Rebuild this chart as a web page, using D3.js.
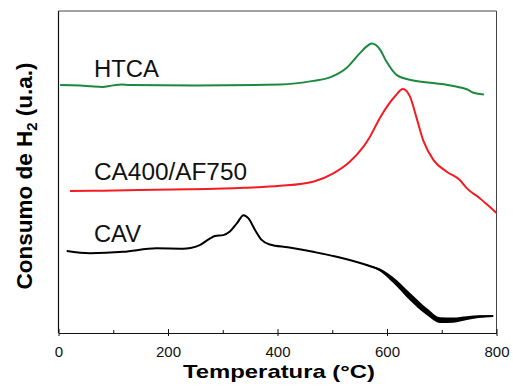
<!DOCTYPE html>
<html>
<head>
  <style>
    body {
      margin: 0;
      background: white;
    }
    text {
      font-family: "Liberation Sans", Arial, sans-serif;
    }
  </style>
</head>
<body>
  <div id="chart"></div>
  <script src="https://d3js.org/d3.v7.min.js"></script>
  <script>
    var width = 513, height = 387;
    var margin = {left: 58.5, right: 16.5, top: 11, bottom: 54};

    // tick labels
    var majorTicks = [0, 200, 400, 600, 800];
    var minorTicks = [100, 300, 500, 700];

    // HTCA (green)
    var htcaTemp = [3, 40, 60, 80, 100, 115, 130, 250, 405, 465, 496, 526, 551, 563, 572, 587, 599, 618, 648, 691, 721, 746, 758, 777];
    var htcaVal  = [77.0, 76.9, 76.6, 76.4, 76.9, 77.2, 77.0, 76.9, 77.2, 78.3, 79.4, 82.3, 87.0, 89.0, 89.9, 88.1, 84.3, 80.1, 78.4, 77.5, 76.7, 75.7, 74.6, 74.1];

    // CA400/AF750 (red)
    var caafTemp = [21, 80, 149, 210, 271, 340, 405, 465, 502, 532, 557, 567, 587, 615, 629, 642, 654, 666, 685, 709, 733, 746, 770, 794, 800];
    var caafVal  = [44.1, 44.2, 44.4, 44.6, 44.7, 45.1, 45.7, 47.0, 49.6, 53.2, 57.9, 60.4, 66.8, 73.6, 75.8, 73.4, 66.8, 59.9, 53.7, 50.1, 47.5, 44.9, 41.8, 38.2, 37.3];

    // CAV (black), with the spread of the noisy tail
    var cavTemp   = [15, 57, 118, 179, 227, 241, 258, 277, 286, 301, 313, 326, 338, 347, 359, 371, 386, 419, 465, 508, 563, 587, 611, 642, 673, 697, 721, 746, 770, 794];
    var cavVal    = [25.5, 24.8, 25.2, 26.3, 26.2, 26.4, 27.3, 29.4, 30.1, 30.4, 31.5, 34.1, 36.6, 35.6, 32.0, 28.9, 27.5, 26.6, 25.2, 23.7, 21.1, 19.6, 16.5, 11.3, 6.6, 4.0, 4.0, 4.6, 5.1, 5.3];
    var cavSpread = [0, 0, 0, 0, 0, 0, 0, 0, 0, 0, 0, 0, 0, 0, 0, 0, 0, 0, 0, 0, 0.2, 0.4, 0.9, 1.2, 1.1, 0.9, 0.8, 0.6, 0.4, 0.2];

    var labels = ["HTCA", "CA400/AF750", "CAV"];

    var svg = d3.select("#chart").append("svg")
        .attr("width", width)
        .attr("height", height);

    var x = d3.scaleLinear().domain([0, 800]).range([margin.left, width - margin.right]);
    var y = d3.scaleLinear().domain([0, 100]).range([height - margin.bottom, margin.top]);

    var zip = (t, v) => t.map((d, i) => [d, v[i]]);

    var line = d3.line()
        .x(d => x(d[0]))
        .y(d => y(d[1]))
        .curve(d3.curveMonotoneX);

    // frame
    svg.append("line")
        .attr("x1", x(0)).attr("x2", x(800))
        .attr("y1", y(100)).attr("y2", y(100))
        .attr("stroke", "#444").attr("stroke-width", 1);
    svg.append("line")
        .attr("x1", x(800)).attr("x2", x(800))
        .attr("y1", y(100)).attr("y2", y(0))
        .attr("stroke", "#444").attr("stroke-width", 1);
    svg.append("line")
        .attr("x1", x(0)).attr("x2", x(0))
        .attr("y1", y(100)).attr("y2", y(0))
        .attr("stroke", "#111").attr("stroke-width", 1.2);

    // CAV band and line
    var cav = cavTemp.map((d, i) => [d, cavVal[i], cavSpread[i]]);
    svg.append("path")
        .datum(cav.filter(d => d[0] >= 508))
        .attr("fill", "black")
        .attr("d", d3.area()
          .x(d => x(d[0]))
          .y0(d => y(d[1] - d[2]))
          .y1(d => y(d[1] + d[2]))
          .curve(d3.curveMonotoneX));

    var series = [
      {data: zip(htcaTemp, htcaVal), colour: "#1b8a3e"},
      {data: zip(caafTemp, caafVal), colour: "#f21c22"},
      {data: zip(cavTemp, cavVal), colour: "#000"}
    ];

    svg.selectAll("path.curve")
        .data(series)
      .enter().append("path")
        .attr("class", "curve")
        .attr("fill", "none")
        .attr("stroke", d => d.colour)
        .attr("stroke-width", 2)
        .attr("stroke-linejoin", "round")
        .attr("d", d => line(d.data));

    // x axis
    var gx = svg.append("g")
        .attr("transform", "translate(0," + y(0) + ")")
        .call(d3.axisBottom(x).tickValues(majorTicks).tickSizeInner(-4).tickSizeOuter(0).tickPadding(13));
    gx.select(".domain").attr("stroke", "#111").attr("stroke-width", 1.2);
    gx.selectAll(".tick line").attr("y1", 3).attr("stroke", "#111");
    gx.selectAll(".tick text")
        .attr("font-family", "Liberation Sans, Arial, sans-serif")
        .attr("font-size", 15)
        .attr("fill", "#111");

    var gm = svg.append("g")
        .attr("transform", "translate(0," + y(0) + ")")
        .call(d3.axisBottom(x).tickValues(minorTicks).tickSizeInner(-3).tickSizeOuter(0).tickFormat(""));
    gm.select(".domain").remove();
    gm.selectAll(".tick line").attr("stroke", "#111");

    // axis titles
    svg.append("text")
        .attr("x", 279)
        .attr("y", 378)
        .attr("text-anchor", "middle")
        .attr("font-size", 19)
        .attr("font-weight", "bold")
        .attr("textLength", 192)
        .attr("lengthAdjust", "spacingAndGlyphs")
        .text("Temperatura (°C)");

    var yt = svg.append("text")
        .attr("transform", "translate(32,176) rotate(-90)")
        .attr("text-anchor", "middle")
        .attr("font-size", 22.5)
        .attr("font-weight", "bold");
    yt.append("tspan").text("Consumo de H");
    yt.append("tspan").attr("font-size", 15).attr("dy", 5).text("2");
    yt.append("tspan").attr("dy", -5).text(" (u.a.)");

    // curve labels
    var labelPos = [[94, 77, 65], [94, 180, 153], [94, 242, 47]];
    svg.selectAll("text.lbl")
        .data(labels)
      .enter().append("text")
        .attr("class", "lbl")
        .attr("x", (d, i) => labelPos[i][0])
        .attr("y", (d, i) => labelPos[i][1])
        .attr("font-size", 23)
        .attr("textLength", (d, i) => labelPos[i][2])
        .attr("lengthAdjust", "spacingAndGlyphs")
        .attr("fill", "#111")
        .text(d => d);
  </script>
</body>
</html>
